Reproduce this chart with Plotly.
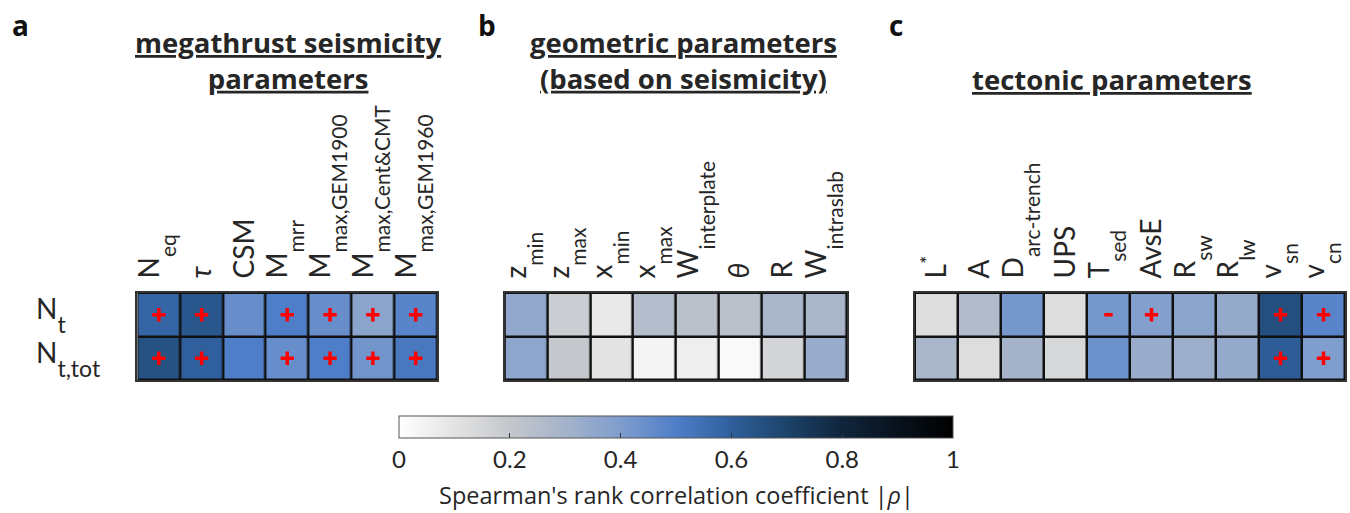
import plotly.graph_objects as go

# ---------------- data ----------------
MAIN = '<span style="baseline-shift:{}px">{}</span>'
SUB = '<span style="font-size:21px;baseline-shift:{}px">{}</span>'
SUP = '<span style="font-size:20px;baseline-shift:12px">{}</span>'


def lab(main, sub=None, sup=None):
    """Label with Matlab-like sub/superscripts (text only, no positions)."""
    if sub:
        return MAIN.format(9, main) + SUB.format(-8, sub)
    if sup:
        return main + SUP.format(sup)
    return main


def rlab(main, sub):
    return main + '<span style="font-size:23px;baseline-shift:-14px">' + sub + '</span>'


row_labels = [rlab("N", "t"), rlab("N", "t,tot")]

a_params = [lab("N", "eq"), lab("<i>τ</i>"), lab("CSM"), lab("M", "mrr"),
            lab("M", "max,GEM1900"), lab("M", "max,Cent&amp;CMT"), lab("M", "max,GEM1960")]
a_Nt = [0.58, 0.63, 0.45, 0.50, 0.45, 0.37, 0.48]
a_Ntt = [0.65, 0.60, 0.50, 0.45, 0.50, 0.43, 0.52]
a_sign_Nt = ["+", "+", "", "+", "+", "+", "+"]
a_sign_Ntt = ["+", "+", "", "+", "+", "+", "+"]

b_params = [lab("z", "min"), lab("z", "max"), lab("x", "min"), lab("x", "max"),
            lab("W", "interplate"), lab("<i>θ</i>"), lab("R"), lab("W", "intraslab")]
b_Nt = [0.35, 0.18, 0.08, 0.25, 0.23, 0.23, 0.28, 0.28]
b_Ntt = [0.36, 0.20, 0.10, 0.04, 0.06, 0.02, 0.15, 0.33]
b_sign_Nt = [""] * 8
b_sign_Ntt = [""] * 8

c_params = [lab("L", sup="*"), lab("A"), lab("D", "arc-trench"), lab("UPS"), lab("T", "sed"),
            lab("AvsE"), lab("R", "sw"), lab("R", "lw"), lab("v", "sn"), lab("v", "cn")]
c_Nt = [0.12, 0.26, 0.42, 0.12, 0.42, 0.39, 0.37, 0.34, 0.66, 0.48]
c_Ntt = [0.28, 0.12, 0.30, 0.14, 0.44, 0.33, 0.32, 0.34, 0.61, 0.40]
c_sign_Nt = ["", "", "", "", "-", "+", "", "", "+", "+"]
c_sign_Ntt = ["", "", "", "", "", "", "", "", "+", "+"]

titles = ["megathrust seismicity<br>parameters",
          "geometric parameters<br>(based on seismicity)",
          "tectonic parameters"]
letters = ["a", "b", "c"]

cbar_ticks = [0, 0.2, 0.4, 0.6, 0.8, 1]
cbar_title = "Spearman's rank correlation coefficient |<i>ρ</i>|"

colorscale = [
    [0.0, "#ffffff"], [0.1, "#e3e3e3"], [0.2, "#c4c7cc"], [0.3, "#a4b3ca"],
    [0.4, "#7f9dcd"], [0.5, "#4f7ec8"], [0.6, "#2f5f9c"], [0.7, "#1c436a"],
    [0.8, "#10253c"], [0.9, "#08121d"], [1.0, "#000000"],
]

W, H = 1350, 513
FONT = "Lato"
TFONT = "Open Sans"
TXT = "#262626"

panels = [
    (a_params, a_Nt, a_Ntt, a_sign_Nt, a_sign_Ntt, (132, 433)),
    (b_params, b_Nt, b_Ntt, b_sign_Nt, b_sign_Ntt, (501, 845)),
    (c_params, c_Nt, c_Ntt, c_sign_Nt, c_sign_Ntt, (913, 1345)),
]
y_top, y_bot = 293, 380
ydom = [1 - y_bot / H, 1 - y_top / H]

fig = go.Figure()
layout = dict(
    width=W, height=H, margin=dict(l=0, r=0, t=0, b=0),
    paper_bgcolor="white", plot_bgcolor="#111111",
    font=dict(family=FONT, color=TXT),
    showlegend=False,
    coloraxis=dict(
        colorscale=colorscale, cmin=0, cmax=1,
        colorbar=dict(
            orientation="h", x=673 / W, xanchor="center",
            lenmode="fraction", len=556 / W, thickness=22,
            y=1 - 416 / H, yanchor="top", ypad=0, xpad=0,
            outlinewidth=1, outlinecolor="#555555",
            ticks="inside", ticklen=5, tickcolor="#333333", tickwidth=1,
            tickvals=cbar_ticks, ticktext=[f"{v:g}" for v in cbar_ticks],
            tickfont=dict(size=24, family=FONT, color=TXT),
        ),
    ),
)

annotations = []
for i, (params, r1, r2, s1, s2, (x0, x1)) in enumerate(panels):
    k = "" if i == 0 else str(i + 1)
    xa, ya = "x" + k, "y" + k
    fig.add_trace(go.Heatmap(
        z=[r1, r2], x=params, y=row_labels, coloraxis="coloraxis",
        xgap=2.5, ygap=2.5, xaxis=xa, yaxis=ya, hoverinfo="skip",
    ))
    # significance markers
    for row, signs in zip(row_labels, (s1, s2)):
        for sym, name in (("+", "cross-thin"), ("-", "line-ew")):
            xs = [p for p, s in zip(params, signs) if s == sym]
            if xs:
                fig.add_trace(go.Scatter(
                    x=xs, y=[row] * len(xs), mode="markers", xaxis=xa, yaxis=ya,
                    marker=dict(symbol=name, size=9.5 if sym == "+" else 6,
                                line=dict(color="#ff0000", width=3.5)),
                    hoverinfo="skip",
                ))
    layout["xaxis" + k] = dict(
        domain=[x0 / W, x1 / W], anchor=ya, side="top", tickangle=-90,
        range=[-0.5, len(params) - 0.5],
        showgrid=False, zeroline=False, ticks="", ticklen=0, ticklabelstandoff=7,
        tickfont=dict(size=28, family=FONT, color=TXT),
        showline=True, linecolor="#333333", linewidth=2, mirror=True,
        fixedrange=True,
    )
    layout["yaxis" + k] = dict(
        domain=ydom, anchor=xa, range=[1.5, -0.5], autorange=False,
        showticklabels=False, showgrid=False, zeroline=False, ticks="",
        showline=True, linecolor="#333333", linewidth=2, mirror=True,
        fixedrange=True,
    )

# row labels
for r in row_labels:
    annotations.append(dict(
        text=r, x=28 / W, xref="paper", y=r, yref="y", xanchor="left",
        yanchor="middle", showarrow=False,
        font=dict(size=28, family=FONT, color=TXT),
    ))

# panel titles
title_pos = [(284, 22), (681, 22), (1111, 59)]
for t, (cx, ty) in zip(titles, title_pos):
    lines = t.split("<br>")
    txt = "<br>".join(f"<u>{ln}</u>" for ln in lines)
    annotations.append(dict(
        text=f"<b>{txt}</b>", x=cx / W, y=1 - ty / H, xref="paper", yref="paper",
        xanchor="center", yanchor="top", showarrow=False, align="center",
        font=dict(size=27.5, family=TFONT, color=TXT),
    ))

# panel letters
for L, lx in zip(letters, (4, 472, 885)):
    annotations.append(dict(
        text=f"<b>{L}</b>", x=lx / W, y=1 - 4 / H, xref="paper", yref="paper",
        xanchor="left", yanchor="top", showarrow=False,
        font=dict(size=28, family=TFONT, color="#111111"),
    ))

# colorbar title
annotations.append(dict(
    text=cbar_title, x=673 / W, y=1 - 495 / H, xref="paper", yref="paper",
    xanchor="center", yanchor="middle", showarrow=False,
    font=dict(size=23.5, family=TFONT, color=TXT),
))

layout["annotations"] = annotations
fig.update_layout(**layout)
fig.write_html("out.html", config={"displayModeBar": False},
               post_script="document.body.style.margin='0px';")
